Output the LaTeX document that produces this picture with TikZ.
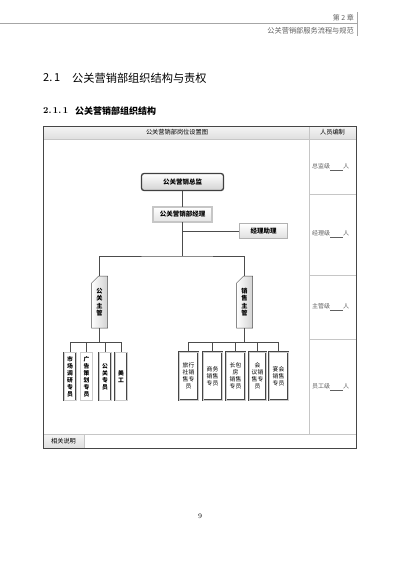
\documentclass[tikz,border=0pt]{standalone}
\usepackage{fontspec}
\newfontfamily\cjk{Noto Sans CJK SC}
\usetikzlibrary{shapes.misc}
\newcommand\myfs[2]{\fontsize{#1}{#2}\selectfont}
\begin{document}
\begin{tikzpicture}[x=1pt,y=-1pt,
  conn/.style={draw=gray!60!black,line width=0.6pt},
  frame/.style={draw=gray!55!black,line width=1pt},
  grid/.style={draw=gray!45,line width=0.5pt},
  hdrfill/.style={top color=gray!10,bottom color=gray!25,draw=none},
  graytxt/.style={text=gray!75!black,font=\cjk\myfs{6}{7}},
  dirbox/.style={draw=gray!50!black,line width=1.3pt,rounded corners=2.5pt,top color=white,bottom color=gray!35,minimum width=82pt,minimum height=17pt,inner sep=0pt,font=\cjk\bfseries\myfs{6.5}{8}},
  mgrbox/.style={draw=gray!55!black,line width=0.4pt,double=gray!45,double distance=1.2pt,top color=white,bottom color=gray!22,minimum width=59pt,minimum height=15pt,inner sep=0pt,font=\cjk\bfseries\myfs{6.5}{8}},
  asstbox/.style={draw=gray!60,line width=0.8pt,top color=white,bottom color=gray!25,minimum width=48pt,minimum height=15pt,inner sep=0pt,font=\cjk\bfseries\myfs{6.5}{8}},
  supbox/.style={chamfered rectangle,chamfered rectangle corners=north west,chamfered rectangle xsep=4pt,chamfered rectangle ysep=4pt,draw=gray!60!black,line width=0.5pt,left color=white,right color=gray!35,minimum width=16pt,minimum height=52pt,inner sep=0pt,align=center,font=\cjk\bfseries\myfs{6.2}{7.5}},
  staffbox/.style={draw=gray!55!black,line width=0.4pt,double=gray!40,double distance=1pt,fill=white,minimum height=48pt,inner sep=0pt,align=center,font=\cjk\myfs{5.8}{7}},
  lstaff/.style={staffbox,minimum width=12pt,font=\cjk\bfseries\myfs{5.8}{7}},
  rstaff/.style={staffbox,minimum width=19pt}
]
\useasboundingbox[fill=white] (0,0) rectangle (400,562);

% page header
\draw[gray!70,line width=0.5pt] (0,23) -- (357,23);
\draw[gray!70,line width=0.5pt] (357,12) -- (357,36);
\node[anchor=east,text=gray!75!black,font=\cjk\myfs{7}{8},inner sep=0pt] (chap) at (354,18) {第 2 章};
\node[anchor=east,text=gray!75!black,font=\cjk\myfs{7.2}{8},inner sep=0pt] (ctitle) at (354,31) {公关营销部服务流程与规范};

% headings
\node[anchor=west,font=\cjk\myfs{11}{12},inner sep=0pt] (secno) at (43,78) {2.\,1};
\node[anchor=west,font=\cjk\myfs{11.2}{12},inner sep=0pt] (sectitle) at (72,78) {公关营销部组织结构与责权};
\node[anchor=west,font=\bfseries\myfs{9}{10},inner sep=0pt] (subno) at (43,111) {2.\,1.\,1};
\node[anchor=west,font=\cjk\bfseries\myfs{9}{10},inner sep=0pt] (subtitle) at (75,111) {公关营销部组织结构};

% table
\fill[top color=gray!8,bottom color=gray!25] (43,126) rectangle (356,139);
\fill[top color=gray!8,bottom color=gray!25] (43,434) rectangle (84,448);
\draw[grid] (43,139) -- (356,139);
\draw[grid] (309,126) -- (309,434);
\draw[grid] (43,434) -- (356,434);
\draw[grid] (84,434) -- (84,448);
\draw[grid] (309,194) -- (356,194);
\draw[grid] (309,275) -- (356,275);
\draw[grid] (309,339) -- (356,339);
\draw[frame] (43,126) rectangle (356,448);

\node[font=\cjk\myfs{6.2}{7}] (th1) at (177,132.5) {公关营销部岗位设置图};
\node[font=\cjk\myfs{6.2}{7}] (th2) at (332.5,132.5) {人员编制};
\node[font=\cjk\myfs{6.2}{7}] (note) at (63.5,441) {相关说明};

\node[graytxt,anchor=west,inner sep=0pt] (l1) at (312,167) {总监级\underline{\hspace{13pt}}人};
\node[graytxt,anchor=west,inner sep=0pt] (l2) at (312,234) {经理级\underline{\hspace{13pt}}人};
\node[graytxt,anchor=west,inner sep=0pt] (l3) at (312,307) {主管级\underline{\hspace{13pt}}人};
\node[graytxt,anchor=west,inner sep=0pt] (l4) at (312,387) {员工级\underline{\hspace{13pt}}人};

% org chart nodes
\node[dirbox] (dir) at (182.5,182) {公关营销总监};
\node[mgrbox] (mgr) at (182.5,214.5) {公关营销部经理};
\node[asstbox] (asst) at (263.5,231) {经理助理};
\node[supbox] (gsup) at (99.5,302) {公\\关\\主\\管};
\node[supbox] (ssup) at (244.5,302) {销\\售\\主\\管};

\node[lstaff] (a1) at (70,376.5) {市\\场\\调\\研\\专\\员};
\node[lstaff] (a2) at (86.5,376.5) {广\\告\\策\\划\\专\\员};
\node[lstaff] (a3) at (105,376.5) {公\\关\\专\\员};
\node[lstaff] (a4) at (121,376.5) {美\\工};

\node[rstaff] (b1) at (188.5,376) {旅行\\社销\\售专\\员};
\node[rstaff] (b2) at (212.5,376) {商务\\销售\\专员};
\node[rstaff] (b3) at (235.5,376) {长包\\房\\销售\\专员};
\node[rstaff,minimum width=17pt] (b4) at (257.5,376) {会\\议销\\售专\\员};
\node[rstaff] (b5) at (278.5,376) {宴会\\销售\\专员};

% connectors
\coordinate (split) at (182.5,256);
\coordinate (lbus) at (99.5,342);
\coordinate (rbus) at (244.5,342);
\draw[conn] (dir.south) -- (mgr.north);
\draw[conn] (mgr.south) -- (split);
\draw[conn] (mgr.south |- asst.west) -- (asst.west);
\draw[conn] (gsup.north) |- (split) -| (ssup.north);
\draw[conn] (gsup.south) -- (lbus);
\draw[conn] (ssup.south) -- (rbus);
\foreach \n in {a1,a2,a3,a4} \draw[conn] (lbus) -| (\n.north);
\foreach \n in {b1,b2,b3,b4,b5} \draw[conn] (rbus) -| (\n.north);

% page number
\node[font=\myfs{7}{8}] (pg) at (200,516) {9};
\end{tikzpicture}
\end{document}
